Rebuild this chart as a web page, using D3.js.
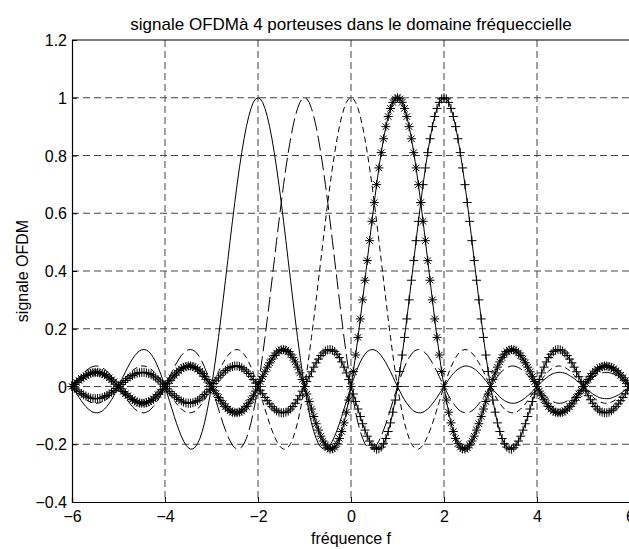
<!DOCTYPE html>
<html lang="fr">
<head>
  <meta charset="UTF-8">
  <title>signale OFDM</title>
  <style>
    body { margin: 0; padding: 0; background: #fff; }
    svg { display: block; font-family: "Liberation Sans", Arial, sans-serif; }
    .tick-label { font-size: 16px; fill: #000; }
    .title { font-size: 17px; fill: #000; }
    .axis-title { font-size: 16px; fill: #000; }
    .grid { stroke: #444; stroke-width: 1; stroke-dasharray: 7,4; }
  </style>
</head>
<body>
  <svg id="chart"></svg>

  <script src="https://d3js.org/d3.v7.min.js"></script>
  <script>
    const width = 629;
    const height = 549;

    // grille de fréquence : -6 à 6, pas 0.05 (241 échantillons)
    const freq = d3.range(241).map(i => -6 + i * 0.05);

    const xTicks = [-6, -4, -2, 0, 2, 4, 6];
    const yTicks = [-0.4, -0.2, 0, 0.2, 0.4, 0.6, 0.8, 1, 1.2];

    // porteuse centrée en -2 (trait plein)
    const porteuseM2 = [
      0,-.013,-.025,-.038,-.049,-.060,-.070,-.078,-.084,-.089,-.091,-.091,-.089,-.085,-.078,-.069,-.058,-.046,-.032,-.016,
      0,.017,.034,.051,.067,.082,.095,.107,.116,.123,.127,.128,.126,.121,.112,.100,.085,.067,.047,.024,
      0,-.026,-.052,-.078,-.104,-.129,-.151,-.172,-.189,-.203,-.212,-.217,-.216,-.210,-.198,-.180,-.156,-.126,-.089,-.047,
      0,.052,.109,.170,.234,.300,.368,.436,.505,.572,.637,.699,.757,.810,.858,.900,.935,.963,.984,.996,
      1,.996,.984,.963,.935,.900,.858,.810,.757,.699,.637,.572,.505,.436,.368,.300,.234,.170,.109,.052,
      0,-.047,-.089,-.126,-.156,-.180,-.198,-.210,-.216,-.217,-.212,-.203,-.189,-.172,-.151,-.129,-.104,-.078,-.052,-.026,
      0,.024,.047,.067,.085,.100,.112,.121,.126,.128,.127,.123,.116,.107,.095,.082,.067,.051,.034,.017,
      0,-.016,-.032,-.046,-.058,-.069,-.078,-.085,-.089,-.091,-.091,-.089,-.084,-.078,-.070,-.060,-.049,-.038,-.025,-.013,
      0,.012,.024,.035,.045,.053,.060,.065,.069,.071,.071,.069,.066,.061,.055,.047,.039,.030,.020,.010,
      0,-.010,-.019,-.028,-.036,-.043,-.049,-.053,-.056,-.058,-.058,-.057,-.054,-.050,-.045,-.039,-.032,-.025,-.017,-.008,
      0,.008,.016,.023,.030,.036,.041,.045,.047,.049,.049,.048,.046,.043,.038,.033,.028,.021,.014,.007,
      0,-.007,-.014,-.020,-.026,-.031,-.035,-.039,-.041,-.042,-.042,-.042,-.040,-.037,-.033,-.029,-.024,-.018,-.012,-.006,
      0
    ];

    // porteuse centrée en -1 (tirets longs)
    const porteuseM1 = [
      0,.010,.020,.030,.039,.047,.055,.061,.066,.069,.071,.071,.069,.065,.060,.053,.045,.035,.024,.012,
      0,-.013,-.025,-.038,-.049,-.060,-.070,-.078,-.084,-.089,-.091,-.091,-.089,-.085,-.078,-.069,-.058,-.046,-.032,-.016,
      0,.017,.034,.051,.067,.082,.095,.107,.116,.123,.127,.128,.126,.121,.112,.100,.085,.067,.047,.024,
      0,-.026,-.052,-.078,-.104,-.129,-.151,-.172,-.189,-.203,-.212,-.217,-.216,-.210,-.198,-.180,-.156,-.126,-.089,-.047,
      0,.052,.109,.170,.234,.300,.368,.436,.505,.572,.637,.699,.757,.810,.858,.900,.935,.963,.984,.996,
      1,.996,.984,.963,.935,.900,.858,.810,.757,.699,.637,.572,.505,.436,.368,.300,.234,.170,.109,.052,
      0,-.047,-.089,-.126,-.156,-.180,-.198,-.210,-.216,-.217,-.212,-.203,-.189,-.172,-.151,-.129,-.104,-.078,-.052,-.026,
      0,.024,.047,.067,.085,.100,.112,.121,.126,.128,.127,.123,.116,.107,.095,.082,.067,.051,.034,.017,
      0,-.016,-.032,-.046,-.058,-.069,-.078,-.085,-.089,-.091,-.091,-.089,-.084,-.078,-.070,-.060,-.049,-.038,-.025,-.013,
      0,.012,.024,.035,.045,.053,.060,.065,.069,.071,.071,.069,.066,.061,.055,.047,.039,.030,.020,.010,
      0,-.010,-.019,-.028,-.036,-.043,-.049,-.053,-.056,-.058,-.058,-.057,-.054,-.050,-.045,-.039,-.032,-.025,-.017,-.008,
      0,.008,.016,.023,.030,.036,.041,.045,.047,.049,.049,.048,.046,.043,.038,.033,.028,.021,.014,.007,
      0
    ];

    // porteuse centrée en 0 (tirets)
    const porteuse0 = [
      0,-.008,-.017,-.025,-.032,-.039,-.045,-.050,-.054,-.057,-.058,-.058,-.056,-.053,-.049,-.043,-.036,-.028,-.019,-.010,
      0,.010,.020,.030,.039,.047,.055,.061,.066,.069,.071,.071,.069,.065,.060,.053,.045,.035,.024,.012,
      0,-.013,-.025,-.038,-.049,-.060,-.070,-.078,-.084,-.089,-.091,-.091,-.089,-.085,-.078,-.069,-.058,-.046,-.032,-.016,
      0,.017,.034,.051,.067,.082,.095,.107,.116,.123,.127,.128,.126,.121,.112,.100,.085,.067,.047,.024,
      0,-.026,-.052,-.078,-.104,-.129,-.151,-.172,-.189,-.203,-.212,-.217,-.216,-.210,-.198,-.180,-.156,-.126,-.089,-.047,
      0,.052,.109,.170,.234,.300,.368,.436,.505,.572,.637,.699,.757,.810,.858,.900,.935,.963,.984,.996,
      1,.996,.984,.963,.935,.900,.858,.810,.757,.699,.637,.572,.505,.436,.368,.300,.234,.170,.109,.052,
      0,-.047,-.089,-.126,-.156,-.180,-.198,-.210,-.216,-.217,-.212,-.203,-.189,-.172,-.151,-.129,-.104,-.078,-.052,-.026,
      0,.024,.047,.067,.085,.100,.112,.121,.126,.128,.127,.123,.116,.107,.095,.082,.067,.051,.034,.017,
      0,-.016,-.032,-.046,-.058,-.069,-.078,-.085,-.089,-.091,-.091,-.089,-.084,-.078,-.070,-.060,-.049,-.038,-.025,-.013,
      0,.012,.024,.035,.045,.053,.060,.065,.069,.071,.071,.069,.066,.061,.055,.047,.039,.030,.020,.010,
      0,-.010,-.019,-.028,-.036,-.043,-.049,-.053,-.056,-.058,-.058,-.057,-.054,-.050,-.045,-.039,-.032,-.025,-.017,-.008,
      0
    ];

    // porteuse centrée en 1 (étoiles)
    const porteuseP1 = [
      0,.007,.014,.021,.028,.033,.038,.043,.046,.048,.049,.049,.047,.045,.041,.036,.030,.023,.016,.008,
      0,-.008,-.017,-.025,-.032,-.039,-.045,-.050,-.054,-.057,-.058,-.058,-.056,-.053,-.049,-.043,-.036,-.028,-.019,-.010,
      0,.010,.020,.030,.039,.047,.055,.061,.066,.069,.071,.071,.069,.065,.060,.053,.045,.035,.024,.012,
      0,-.013,-.025,-.038,-.049,-.060,-.070,-.078,-.084,-.089,-.091,-.091,-.089,-.085,-.078,-.069,-.058,-.046,-.032,-.016,
      0,.017,.034,.051,.067,.082,.095,.107,.116,.123,.127,.128,.126,.121,.112,.100,.085,.067,.047,.024,
      0,-.026,-.052,-.078,-.104,-.129,-.151,-.172,-.189,-.203,-.212,-.217,-.216,-.210,-.198,-.180,-.156,-.126,-.089,-.047,
      0,.052,.109,.170,.234,.300,.368,.436,.505,.572,.637,.699,.757,.810,.858,.900,.935,.963,.984,.996,
      1,.996,.984,.963,.935,.900,.858,.810,.757,.699,.637,.572,.505,.436,.368,.300,.234,.170,.109,.052,
      0,-.047,-.089,-.126,-.156,-.180,-.198,-.210,-.216,-.217,-.212,-.203,-.189,-.172,-.151,-.129,-.104,-.078,-.052,-.026,
      0,.024,.047,.067,.085,.100,.112,.121,.126,.128,.127,.123,.116,.107,.095,.082,.067,.051,.034,.017,
      0,-.016,-.032,-.046,-.058,-.069,-.078,-.085,-.089,-.091,-.091,-.089,-.084,-.078,-.070,-.060,-.049,-.038,-.025,-.013,
      0,.012,.024,.035,.045,.053,.060,.065,.069,.071,.071,.069,.066,.061,.055,.047,.039,.030,.020,.010,
      0
    ];

    // porteuse centrée en 2 (croix)
    const porteuseP2 = [
      0,-.006,-.012,-.018,-.024,-.029,-.033,-.037,-.040,-.042,-.042,-.042,-.041,-.039,-.035,-.031,-.026,-.020,-.014,-.007,
      0,.007,.014,.021,.028,.033,.038,.043,.046,.048,.049,.049,.047,.045,.041,.036,.030,.023,.016,.008,
      0,-.008,-.017,-.025,-.032,-.039,-.045,-.050,-.054,-.057,-.058,-.058,-.056,-.053,-.049,-.043,-.036,-.028,-.019,-.010,
      0,.010,.020,.030,.039,.047,.055,.061,.066,.069,.071,.071,.069,.065,.060,.053,.045,.035,.024,.012,
      0,-.013,-.025,-.038,-.049,-.060,-.070,-.078,-.084,-.089,-.091,-.091,-.089,-.085,-.078,-.069,-.058,-.046,-.032,-.016,
      0,.017,.034,.051,.067,.082,.095,.107,.116,.123,.127,.128,.126,.121,.112,.100,.085,.067,.047,.024,
      0,-.026,-.052,-.078,-.104,-.129,-.151,-.172,-.189,-.203,-.212,-.217,-.216,-.210,-.198,-.180,-.156,-.126,-.089,-.047,
      0,.052,.109,.170,.234,.300,.368,.436,.505,.572,.637,.699,.757,.810,.858,.900,.935,.963,.984,.996,
      1,.996,.984,.963,.935,.900,.858,.810,.757,.699,.637,.572,.505,.436,.368,.300,.234,.170,.109,.052,
      0,-.047,-.089,-.126,-.156,-.180,-.198,-.210,-.216,-.217,-.212,-.203,-.189,-.172,-.151,-.129,-.104,-.078,-.052,-.026,
      0,.024,.047,.067,.085,.100,.112,.121,.126,.128,.127,.123,.116,.107,.095,.082,.067,.051,.034,.017,
      0,-.016,-.032,-.046,-.058,-.069,-.078,-.085,-.089,-.091,-.091,-.089,-.084,-.078,-.070,-.060,-.049,-.038,-.025,-.013,
      0
    ];

    const series = [
      { values: porteuseM2, dash: null, marker: null },
      { values: porteuseM1, dash: "15,5", marker: null },
      { values: porteuse0, dash: "6,4", marker: null },
      { values: porteuseP1, dash: null, marker: "star" },
      { values: porteuseP2, dash: null, marker: "plus" }
    ];

    const margin = { left: 72, top: 40, right: 630, bottom: 502 };

    const svg = d3.select("#chart")
      .attr("width", width)
      .attr("height", height);

    const x = d3.scaleLinear().domain([-6, 6]).range([margin.left, margin.right]);
    const y = d3.scaleLinear().domain([-0.4, 1.2]).range([margin.bottom, margin.top]);

    // grille
    svg.append("g").selectAll("line")
      .data(xTicks.slice(1, -1))
      .enter().append("line")
      .attr("class", "grid")
      .attr("x1", d => x(d)).attr("x2", d => x(d))
      .attr("y1", margin.top).attr("y2", margin.bottom);

    svg.append("g").selectAll("line")
      .data(yTicks.slice(1, -1))
      .enter().append("line")
      .attr("class", "grid")
      .attr("x1", margin.left).attr("x2", margin.right)
      .attr("y1", d => y(d)).attr("y2", d => y(d));

    // courbes
    const line = d3.line()
      .x((d, i) => x(freq[i]))
      .y(d => y(d));

    const plot = svg.append("g");

    series.forEach(s => {
      plot.append("path")
        .datum(s.values)
        .attr("fill", "none")
        .attr("stroke", "#000")
        .attr("stroke-width", 1)
        .attr("stroke-dasharray", s.dash)
        .attr("d", line);

      if (s.marker) {
        const r = 4.5;
        const k = r * 0.72;
        const shape = s.marker === "plus"
          ? `M${-r},0H${r}M0,${-r}V${r}`
          : `M${-r},0H${r}M0,${-r}V${r}M${-k},${-k}L${k},${k}M${-k},${k}L${k},${-k}`;
        plot.append("g").selectAll("path")
          .data(s.values)
          .enter().append("path")
          .attr("transform", (d, i) => `translate(${x(freq[i])},${y(d)})`)
          .attr("d", shape)
          .attr("fill", "none")
          .attr("stroke", "#000")
          .attr("stroke-width", 1);
      }
    });

    // axes (style MATLAB : graduations vers l'intérieur)
    const xAxis = d3.axisBottom(x).tickValues(xTicks).tickSize(-5).tickFormat(d3.format("d"));
    const yAxis = d3.axisLeft(y).tickValues(yTicks).tickSize(-5).tickFormat(d => d3.format("~g")(d));

    const gx = svg.append("g")
      .attr("transform", `translate(0,${margin.bottom})`)
      .call(xAxis);
    gx.selectAll("text").attr("class", "tick-label").attr("dy", null).attr("y", 20).attr("font-size", null).attr("font-family", null);

    const gy = svg.append("g")
      .attr("transform", `translate(${margin.left},0)`)
      .call(yAxis);
    gy.selectAll("text").attr("class", "tick-label").attr("x", -5).attr("dy", "0.35em").attr("font-size", null).attr("font-family", null);

    [gx, gy].forEach(g => {
      g.select(".domain").attr("stroke", "#000").attr("stroke-width", 1.2);
      g.selectAll(".tick line").attr("stroke", "#000");
    });

    // bord supérieur
    svg.append("line")
      .attr("x1", margin.left).attr("x2", margin.right)
      .attr("y1", margin.top).attr("y2", margin.top)
      .attr("stroke", "#000").attr("stroke-width", 1.2);

    // textes
    svg.append("text")
      .attr("class", "title")
      .attr("x", (margin.left + margin.right) / 2)
      .attr("y", 30)
      .attr("text-anchor", "middle")
      .text("signale OFDMà 4 porteuses dans le domaine fréqueccielle");

    svg.append("text")
      .attr("class", "axis-title")
      .attr("x", (margin.left + margin.right) / 2)
      .attr("y", 544)
      .attr("text-anchor", "middle")
      .text("fréquence f");

    svg.append("text")
      .attr("class", "axis-title")
      .attr("transform", `translate(28,${(margin.top + margin.bottom) / 2}) rotate(-90)`)
      .attr("text-anchor", "middle")
      .text("signale OFDM");
  </script>
</body>
</html>
